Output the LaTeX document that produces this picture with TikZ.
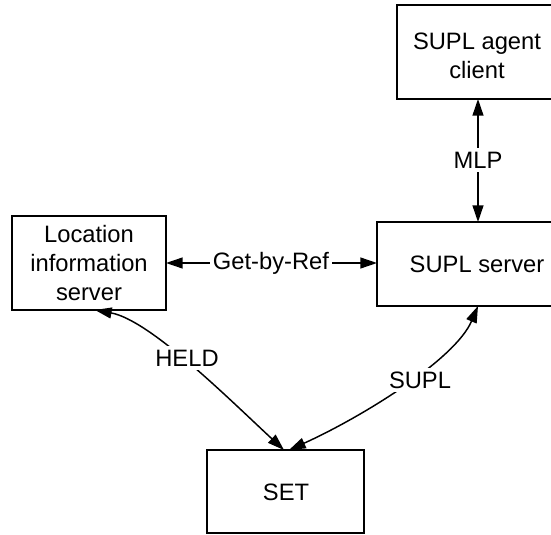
\documentclass[tikz,border=0pt]{standalone}
\usepackage{fontspec}
\setmainfont{Liberation Sans}
\usetikzlibrary{arrows.meta,calc}
\begin{document}
\begin{tikzpicture}[x=0.75pt,y=-0.75pt,
  every node/.style={font=\fontsize{17.8pt}{21.4pt}\selectfont, inner sep=0pt},
  box/.style={draw, line width=1.3pt},
  conn/.style={line width=1.1pt, {Triangle[length=12.5pt,width=8.2pt]}-{Triangle[length=12.5pt,width=8.2pt]}},
  lbl/.style={fill=white, inner xsep=2pt, inner ysep=3pt}]
\clip (0,0) rectangle (551,535);
\fill[white] (0,0) rectangle (551,535);
% boxes
\draw[box] (397,5) rectangle (620,99);
\node (agent) at (477,56) [align=center] {SUPL agent\\client};
\draw[box] (377,222) rectangle (620,306);
\node (supl) at (477,264) {SUPL server};
\draw[box] (12,216) rectangle (166,310);
\node (lis) at (89,263) [align=center] {Location\\information\\server};
\draw[box] (207,450) rectangle (364,533);
\node (set) at (286,492) {SET};
% anchors
\coordinate (lisE) at (166,263);
\coordinate (suplW) at (377,263);
\coordinate (agentS) at (478,99);
\coordinate (suplN) at (478,222);
\coordinate (lisS) at (95,310);
\coordinate (suplS) at (478,306);
\coordinate (setN1) at (284,450);
\coordinate (setN2) at (289,450);
% connectors
\draw[conn] (lisE) -- (suplW);
\node[lbl] (gbr) at (271,263) {Get-by-Ref};
\draw[conn] (agentS) -- (suplN);
\node[lbl] (mlp) at (478,160) {MLP};
\draw[conn] (lisS) .. controls (150,320) and (230,400) .. (setN1);
\node[lbl] (held) at (187,358) {HELD};
\draw[conn] (suplS) .. controls (455,360) and (360,418) .. (setN2);
\node[lbl] (supllbl) at (420,380) {SUPL};
\end{tikzpicture}
\end{document}
